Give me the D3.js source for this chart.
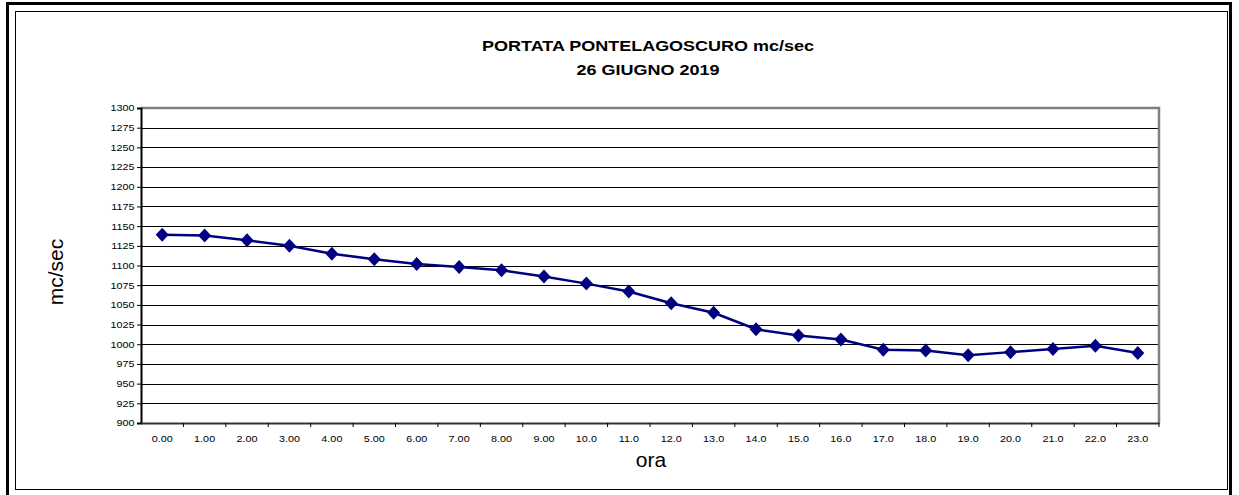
<!DOCTYPE html>
<html>
<head>
<meta charset="utf-8">
<script src="https://cdn.jsdelivr.net/npm/d3@7"></script>
<style>
  html, body { margin: 0; padding: 0; background: #fff; }
  svg { display: block; font-family: "Liberation Sans", Arial, sans-serif; }
</style>
</head>
<body>
<svg id="chart" width="1239" height="495"></svg>
<script>
const hours = ["0.00","1.00","2.00","3.00","4.00","5.00","6.00","7.00","8.00","9.00",
               "10.0","11.0","12.0","13.0","14.0","15.0","16.0","17.0","18.0","19.0",
               "20.0","21.0","22.0","23.0"];
const portata = [1139,1138,1132,1125,1115,1108,1102,1098,1094,1086,
                 1077,1067,1052,1040,1019,1011,1006,993,992,986,
                 990,994,998,989];
const yTicks = [900,925,950,975,1000,1025,1050,1075,1100,1125,1150,1175,1200,1225,1250,1275,1300];
const titleLines = ["PORTATA PONTELAGOSCURO mc/sec", "26 GIUGNO 2019"];
const yTitle = "mc/sec";
const xTitle = "ora";

const svg = d3.select("#chart");
const plot = {left: 141, right: 1159, top: 108, bottom: 423};
const stretch = 1.2;

// frames
svg.append("rect").attr("x", 7.5).attr("y", 3.5).attr("width", 1223).attr("height", 500)
  .attr("fill", "none").attr("stroke", "#000").attr("stroke-width", 3);
svg.append("rect").attr("x", 15.5).attr("y", 11.5).attr("width", 1212).attr("height", 478)
  .attr("fill", "#fff").attr("stroke", "#000").attr("stroke-width", 1);

const x = d3.scaleBand().domain(hours).range([plot.left, plot.right]).padding(0);
const y = d3.scaleLinear().domain([900, 1300]).range([plot.bottom, plot.top]);

// gridlines
svg.append("g").selectAll("line").data(yTicks.filter(v => v > 900 && v < 1300)).join("line")
  .attr("x1", plot.left).attr("x2", plot.right)
  .attr("y1", d => Math.round(y(d)) + 0.5).attr("y2", d => Math.round(y(d)) + 0.5)
  .attr("stroke", "#000").attr("stroke-width", 1).attr("shape-rendering", "crispEdges");

// plot border top/right grey
svg.append("path")
  .attr("d", `M${plot.left},${plot.top} H${plot.right} V${plot.bottom}`)
  .attr("fill", "none").attr("stroke", "#808080").attr("stroke-width", 2.5);

// y axis
const yAxis = d3.axisLeft(y).tickValues(yTicks).tickSize(4).tickPadding(3).tickFormat(d3.format("d"));
const gy = svg.append("g").attr("transform", `translate(${plot.left},0)`).call(yAxis);
gy.select(".domain").attr("stroke", "#000").attr("stroke-width", 2);
gy.selectAll(".tick line").attr("stroke", "#000");
gy.selectAll("text").attr("font-size", "9px").attr("fill", "#000")
  .attr("font-family", "'Liberation Sans', Arial, sans-serif")
  .attr("x", -6.5 / stretch).attr("transform", `scale(${stretch},1)`);

// x axis with ticks at category boundaries
const xAxis = d3.axisBottom(x).tickSize(0).tickPadding(13);
const gx = svg.append("g").attr("transform", `translate(0,${plot.bottom})`).call(xAxis);
gx.select(".domain").attr("stroke", "#333").attr("stroke-width", 2);
gx.selectAll("text").attr("font-size", "9px").attr("fill", "#000")
  .attr("font-family", "'Liberation Sans', Arial, sans-serif")
  .attr("transform", `scale(${stretch},1)`);
const bounds = hours.map(h => x(h)).concat([x(hours[hours.length-1]) + x.bandwidth()]).slice(1);
gx.append("g").selectAll("line").data(bounds).join("line")
  .attr("x1", d => d).attr("x2", d => d).attr("y1", 0).attr("y2", 4)
  .attr("stroke", "#000").attr("stroke-width", 1);

// line
const cx = h => x(h) + x.bandwidth() / 2;
const line = d3.line().x((d, i) => cx(hours[i])).y(d => y(d));
svg.append("path").datum(portata).attr("d", line)
  .attr("fill", "none").attr("stroke", "#000080").attr("stroke-width", 2.5);

// diamond markers
const rx = 6.5, ry = 7;
svg.append("g").selectAll("path").data(portata).join("path")
  .attr("d", (d, i) => {
    const px = cx(hours[i]), py = y(d);
    return `M${px},${py - ry} L${px + rx},${py} L${px},${py + ry} L${px - rx},${py} Z`;
  })
  .attr("fill", "#000080");

// titles
svg.append("g").selectAll("text").data(titleLines).join("text")
  .attr("transform", (d, i) => `translate(648,${51 + i * 24}) scale(${stretch},1)`)
  .attr("text-anchor", "middle").attr("font-weight", "bold").attr("font-size", "15px")
  .text(d => d);

svg.append("text").attr("transform", "translate(63,272) rotate(-90)")
  .attr("text-anchor", "middle").attr("font-size", "21px").text(yTitle);
svg.append("text").attr("x", 651).attr("y", 467)
  .attr("text-anchor", "middle").attr("font-size", "21px").text(xTitle);
</script>
</body>
</html>
